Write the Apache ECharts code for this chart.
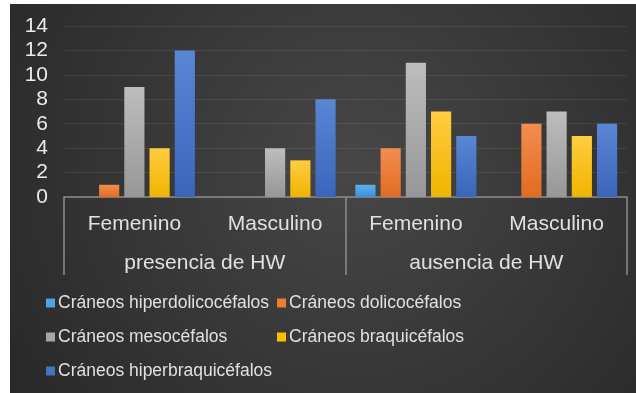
<!DOCTYPE html>
<html>
<head>
<meta charset="utf-8">
<script src="https://cdn.jsdelivr.net/npm/echarts@6/dist/echarts.min.js"></script>
<style>
  html, body { margin: 0; padding: 0; background: #ffffff; }
  #chart { position: absolute; left: 10px; top: 4px; width: 626px; height: 389px; }
</style>
</head>
<body>
<div id="chart"></div>
<script>
// ---- data ----
const categories = ['Femenino', 'Masculino', 'Femenino', 'Masculino'];
const groups = ['presencia de HW', 'ausencia de HW'];
const seriesNames = [
  'Cráneos hiperdolicocéfalos',
  'Cráneos dolicocéfalos',
  'Cráneos mesocéfalos',
  'Cráneos braquicéfalos',
  'Cráneos hiperbraquicéfalos'
];
const hiperdolico = [0, 0, 1, 0];
const dolico = [1, 0, 4, 6];
const meso = [9, 4, 11, 7];
const braqui = [4, 3, 7, 5];
const hiperbraqui = [12, 8, 5, 6];
const yTicks = [0, 2, 4, 6, 8, 10, 12, 14];

// ---- styles ----
const flatColors = ['#4DA3E6', '#ED7D31', '#A5A5A5', '#FFC000', '#4472C4'];
const gradColors = [
  ['#5DB0EE', '#3C90D8'],
  ['#F28E4F', '#E26B21'],
  ['#BDBDBD', '#979797'],
  ['#FFCD40', '#F0B400'],
  ['#5B86D4', '#3A65BA']
];
const values = [hiperdolico, dolico, meso, braqui, hiperbraqui];
const txt = '#e0e0e0';
const font = 'Liberation Sans, Arial, sans-serif';

const chart = echarts.init(document.getElementById('chart'));

const series = seriesNames.map((name, i) => ({
  name: name,
  type: 'bar',
  xAxisIndex: 0,
  barGap: '25%',
  barCategoryGap: '14%',
  data: values[i],
  itemStyle: {
    color: {
      type: 'linear', x: 0, y: 0, x2: 0, y2: 1,
      colorStops: [
        { offset: 0, color: gradColors[i][0] },
        { offset: 1, color: gradColors[i][1] }
      ]
    }
  }
}));

const legendPos = [
  { left: 36, top: 289 },
  { left: 267, top: 289 },
  { left: 36, top: 323 },
  { left: 267, top: 323 },
  { left: 36, top: 357 }
];
const legends = seriesNames.map((name, i) => ({
  left: legendPos[i].left,
  top: legendPos[i].top,
  padding: 0,
  orient: 'horizontal',
  icon: 'rect',
  itemWidth: 9,
  itemHeight: 9,
  selectedMode: false,
  textStyle: { color: txt, fontSize: 17.5, fontFamily: font, lineHeight: 20, padding: [0, 0, 0, -2] },
  data: [{ name: name, itemStyle: { color: flatColors[i] } }]
}));

chart.setOption({
  animation: false,
  backgroundColor: {
    type: 'radial', x: 0.55, y: 0.42, r: 1.0,
    colorStops: [
      { offset: 0, color: '#474747' },
      { offset: 1, color: '#2a2a2a' }
    ]
  },
  grid: { left: 54, right: 9, top: 22, bottom: 196 },
  legend: legends,
  xAxis: [
    {
      type: 'category',
      data: categories,
      position: 'bottom',
      axisLine: { show: true, lineStyle: { color: '#8c8c8c', width: 1.5 } },
      axisTick: { show: false },
      axisLabel: { color: txt, fontSize: 21, fontFamily: font, margin: 17, lineHeight: 21 },
      splitLine: { show: false }
    },
    {
      type: 'category',
      data: groups,
      position: 'bottom',
      axisLine: { show: false },
      axisTick: { show: true, length: 78, lineStyle: { color: '#8c8c8c', width: 1.5 } },
      axisLabel: { color: txt, fontSize: 21, fontFamily: font, margin: 56, lineHeight: 21 },
      splitLine: { show: false }
    }
  ],
  yAxis: {
    type: 'value',
    min: yTicks[0],
    max: yTicks[yTicks.length - 1],
    interval: 2,
    axisLine: { show: false },
    axisTick: { show: false },
    axisLabel: { color: '#ebebeb', fontSize: 21, fontFamily: font, margin: 16 },
    splitLine: { show: true, lineStyle: { color: 'rgba(255,255,255,0.08)', width: 1 } }
  },
  series: series
});
</script>
</body>
</html>
